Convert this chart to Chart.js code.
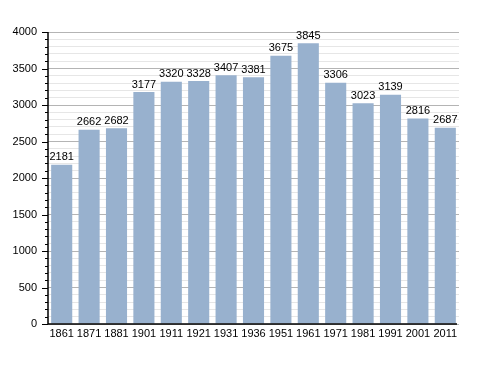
<!DOCTYPE html>
<html>
<head>
<meta charset="utf-8">
<script src="https://cdn.jsdelivr.net/npm/chart.js@4"></script>
<style>
    html, body { margin: 0; padding: 0; background: #ffffff; }
    #wrap { width: 488px; height: 373px; }
</style>
</head>
<body>
<div id="wrap"><canvas id="popChart" width="488" height="373"></canvas></div>
<script>
// Data
const years = ['1861', '1871', '1881', '1901', '1911', '1921', '1931', '1936',
    '1951', '1961', '1971', '1981', '1991', '2001', '2011'];
const population = [2181, 2662, 2682, 3177, 3320, 3328, 3407, 3381,
    3675, 3845, 3306, 3023, 3139, 2816, 2687];
const yMin = 0;
const yMax = 4000;
const yMajorStep = 500;
const yMinorStep = 100;

const FONT = 'Liberation Sans, Arial, Helvetica, sans-serif';

// Value labels above each bar
const valueLabels = {
    id: 'valueLabels',
    afterDatasetsDraw(chart) {
        const ctx = chart.ctx;
        const meta = chart.getDatasetMeta(0);
        ctx.save();
        ctx.font = '11px ' + FONT;
        ctx.fillStyle = '#000000';
        ctx.textAlign = 'center';
        ctx.textBaseline = 'bottom';
        meta.data.forEach((bar, i) => {
            ctx.fillText(String(population[i]), bar.x, bar.y - 2);
        });
        ctx.restore();
    }
};

// Short minor tick marks and the black axis lines
const axisMarks = {
    id: 'axisMarks',
    afterDraw(chart) {
        const ctx = chart.ctx;
        const area = chart.chartArea;
        const y = chart.scales.y;
        ctx.save();
        ctx.strokeStyle = '#000000';
        ctx.lineWidth = 1;
        ctx.beginPath();
        for (let v = yMin; v <= yMax; v += yMinorStep) {
            const py = Math.round(y.getPixelForValue(v)) + 0.5;
            const len = v % yMajorStep === 0 ? 6 : 3;
            ctx.moveTo(area.left - len, py);
            ctx.lineTo(area.left, py);
        }
        ctx.stroke();
        ctx.lineWidth = 1.5;
        ctx.beginPath();
        ctx.moveTo(area.left, area.top);
        ctx.lineTo(area.left, area.bottom);
        ctx.lineTo(area.right - 2, area.bottom);
        ctx.stroke();
        ctx.restore();
    }
};

new Chart(document.getElementById('popChart'), {
    type: 'bar',
    data: {
        labels: years,
        datasets: [{
            data: population,
            backgroundColor: '#98b1ce',
            borderWidth: 0,
            barPercentage: 0.77,
            categoryPercentage: 1.0
        }]
    },
    options: {
        responsive: false,
        animation: false,
        layout: { padding: { top: 32, right: 29, left: 0, bottom: 0 } },
        plugins: {
            legend: { display: false },
            tooltip: { enabled: false }
        },
        scales: {
            x: {
                grid: { display: false, drawTicks: false },
                border: { display: false },
                ticks: {
                    color: '#000000',
                    font: { family: FONT, size: 11 },
                    padding: 3,
                    maxRotation: 0,
                    autoSkip: false
                },
                afterFit: (scale) => { scale.height = 49; }
            },
            y: {
                min: yMin,
                max: yMax,
                grid: {
                    color: (c) => (c.tick && c.tick.value % yMajorStep === 0) ? '#b4b4b4' : '#e6e6e6',
                    lineWidth: 1,
                    drawTicks: false
                },
                border: { display: false },
                ticks: {
                    stepSize: yMinorStep,
                    autoSkip: false,
                    color: '#000000',
                    font: { family: FONT, size: 11 },
                    padding: 11,
                    callback: (v) => (v % yMajorStep === 0 ? String(v) : '')
                },
                afterFit: (scale) => { scale.width = 48; }
            }
        }
    },
    plugins: [valueLabels, axisMarks]
});
</script>
</body>
</html>
